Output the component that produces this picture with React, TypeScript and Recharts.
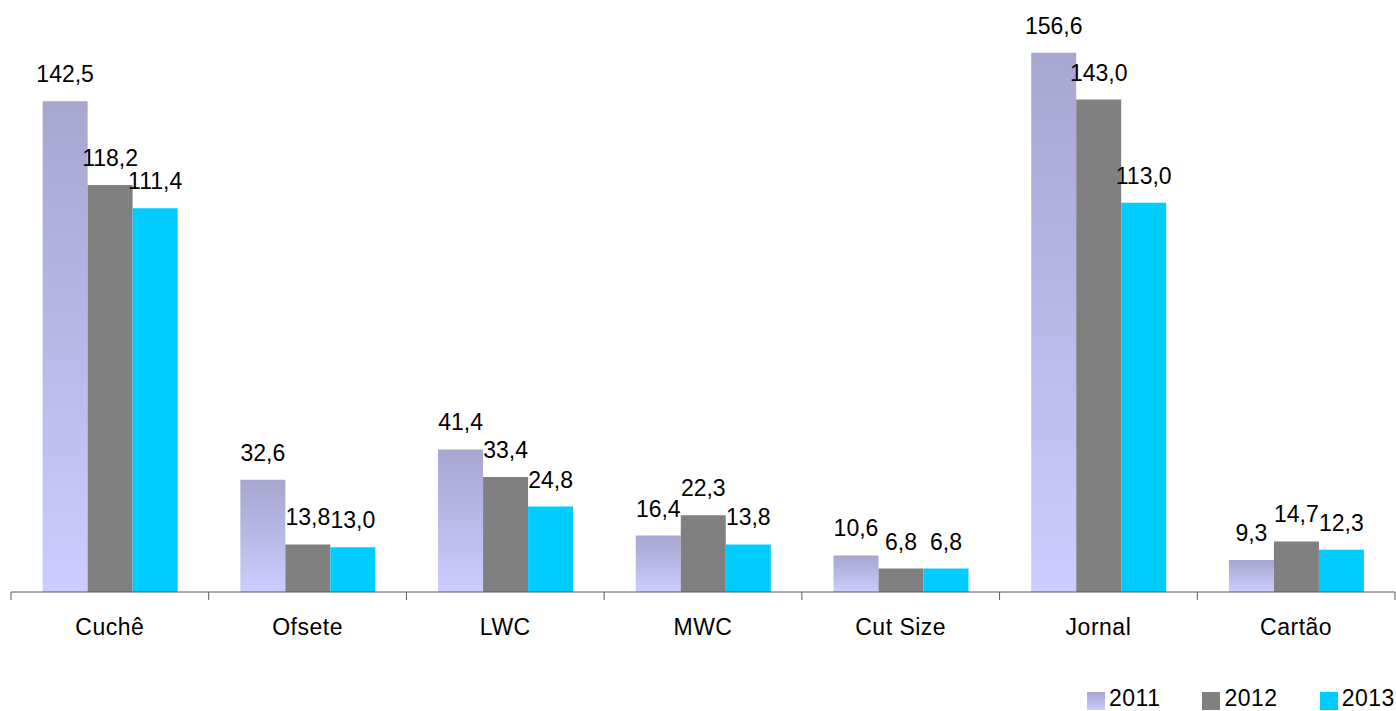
import { Bar, BarChart, LabelList, XAxis, YAxis } from "recharts";

const categories = ["Cuchê", "Ofsete", "LWC", "MWC", "Cut Size", "Jornal", "Cartão"];
const values2011 = [142.5, 32.6, 41.4, 16.4, 10.6, 156.6, 9.3];
const values2012 = [118.2, 13.8, 33.4, 22.3, 6.8, 143.0, 14.7];
const values2013 = [111.4, 13.0, 24.8, 13.8, 6.8, 113.0, 12.3];

const series = [
  { key: "y2011", name: "2011", fill: "url(#grad2011)", swatch: "linear-gradient(#a6a6cf, #ccccff)" },
  { key: "y2012", name: "2012", fill: "#808080", swatch: "#808080" },
  { key: "y2013", name: "2013", fill: "#00ccff", swatch: "#00ccff" },
];

const data = categories.map((name, i) => ({
  name,
  y2011: values2011[i],
  y2012: values2012[i],
  y2013: values2013[i],
}));

const font = "'Liberation Sans', Arial, sans-serif";
const axisColor = "#595959";
const fmt = (v: unknown) => Number(v).toFixed(1).replace(".", ",");

// category label plus the tick marks at the category boundaries (Excel style)
const CategoryTick = (props: any) => {
  const { x, y, payload, index, visibleTicksCount } = props;
  const off = payload?.offset ?? 0;
  const axisY = y - 27;
  const isLast = index === visibleTicksCount - 1;
  return (
    <g>
      <line x1={x - off} x2={x - off} y1={axisY} y2={axisY + 8} stroke={axisColor} />
      {isLast ? <line x1={x + off} x2={x + off} y1={axisY} y2={axisY + 8} stroke={axisColor} /> : null}
      <text
        x={x}
        y={y}
        dy="0.71em"
        textAnchor="middle"
        fill="#000"
        fontSize={23}
        letterSpacing={0.5}
        fontFamily={font}
      >
        {payload.value}
      </text>
    </g>
  );
};

export default function App() {
  return (
    <div style={{ position: "absolute", left: 0, top: 0, width: 1396, height: 711, background: "#fff", fontFamily: font }}>
      <BarChart
        width={1396}
        height={711}
        data={data}
        margin={{ top: 41, right: 1, bottom: 59, left: 11 }}
        barCategoryGap="16%"
        barGap={0}
      >
        <defs>
          <linearGradient id="grad2011" x1="0" y1="0" x2="0" y2="1">
            <stop offset="0%" stopColor="#a6a6cf" />
            <stop offset="100%" stopColor="#ccccff" />
          </linearGradient>
        </defs>
        <XAxis
          dataKey="name"
          height={60}
          axisLine={{ stroke: axisColor }}
          tickLine={false}
          tickSize={0}
          tickMargin={27}
          tick={<CategoryTick />}
          interval={0}
        />
        <YAxis hide domain={[0, 160]} />
        {series.map((s) => (
          <Bar key={s.key} dataKey={s.key} name={s.name} fill={s.fill} isAnimationActive={false}>
            <LabelList
              dataKey={s.key}
              position="top"
              offset={19}
              formatter={fmt}
              style={{ fill: "#000", fontSize: 23, fontFamily: font }}
            />
          </Bar>
        ))}
      </BarChart>
      <div
        style={{
          position: "absolute",
          left: 1087,
          top: 686,
          display: "flex",
          gap: 42,
          alignItems: "center",
          fontSize: 23,
          lineHeight: "23px",
          letterSpacing: 0.5,
          color: "#000",
        }}
      >
        {series.map((s) => (
          <div key={s.key} style={{ display: "flex", alignItems: "center", gap: 4 }}>
            <span style={{ display: "inline-block", width: 18, height: 18, marginTop: 6, background: s.swatch }} />
            <span>{s.name}</span>
          </div>
        ))}
      </div>
    </div>
  );
}
